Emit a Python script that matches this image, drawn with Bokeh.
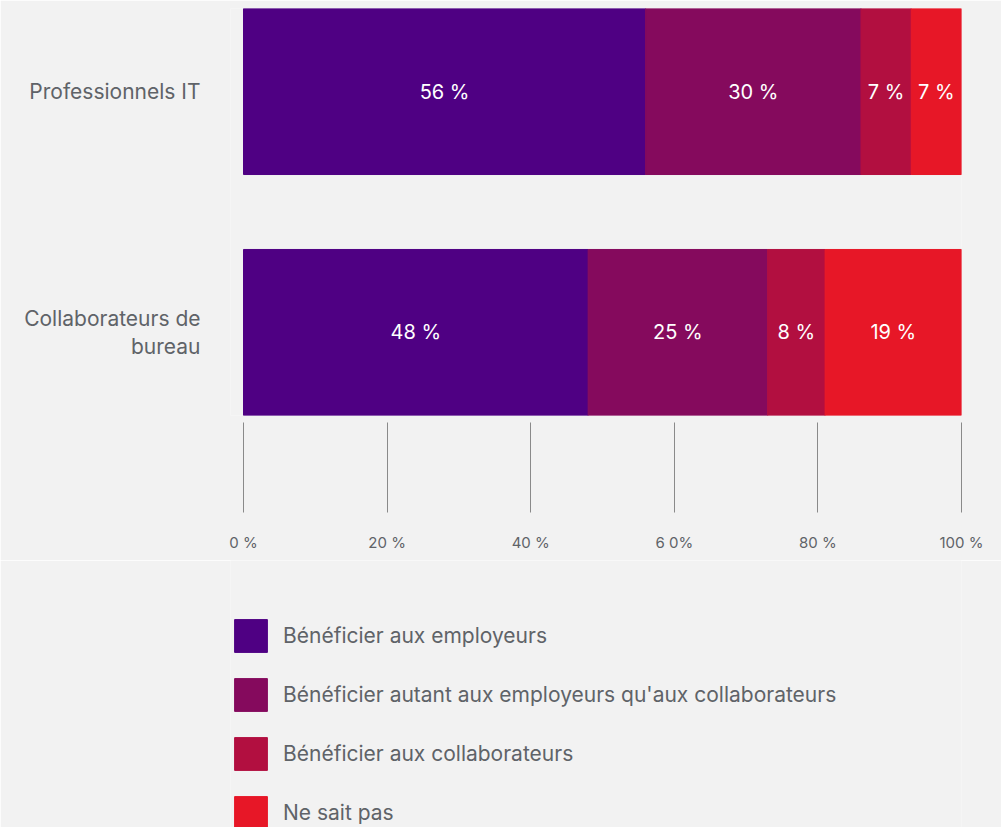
from bokeh.plotting import figure
from bokeh.layouts import column
from bokeh.models import ColumnDataSource, FactorRange, Range1d, FixedTicker, Legend, LegendItem
from bokeh.core.properties import value
from bokeh.embed import file_html
from bokeh.resources import INLINE

# ---- data ----
categories = ["Collaborateurs de\nbureau", "Professionnels IT"]
series_names = [
    "Bénéficier aux employeurs",
    "Bénéficier autant aux employeurs qu'aux collaborateurs",
    "Bénéficier aux collaborateurs",
    "Ne sait pas",
]
employeurs = [48, 56]
autant = [25, 30]
collaborateurs = [8, 7]
ne_sait_pas = [19, 7]
colors = ["#4f0083", "#850a5d", "#b20f40", "#e71727"]
x_ticks = [0, 20, 40, 60, 80, 100]
x_tick_labels = ["0 %", "20 %", "40 %", "6 0%", "80 %", "100 %"]

keys = ["s0", "s1", "s2", "s3"]
series_values = [employeurs, autant, collaborateurs, ne_sait_pas]
src = ColumnDataSource(dict(cat=categories, **{k: v for k, v in zip(keys, series_values)}))

# label positions
lx, ly, lt = [], [], []
for i, cat in enumerate(categories):
    left = 0
    for vals in series_values:
        v = vals[i]
        lx.append(left + v / 2)
        ly.append(cat)
        lt.append(f"{v} %")
        left += v
lab = ColumnDataSource(dict(x=lx, y=ly, t=lt))

TEXT = "#5f6368"
BG = "#f2f2f2"

p = figure(
    width=1001, height=560,
    y_range=FactorRange(factors=categories, range_padding=-0.1556),
    x_range=Range1d(-13 / 7.18, 100),
    output_backend="svg", toolbar_location=None,
    min_border_left=230, min_border_right=40, min_border_top=8, min_border_bottom=145,
)
p.background_fill_color = BG
p.border_fill_color = BG
p.outline_line_color = None
p.grid.visible = False

rs = p.hbar_stack(keys, y="cat", height=0.689, color=colors, source=src)

p.text(x="x", y="y", text="t", source=lab, text_align="center",
       text_baseline="middle", text_color="white",
       text_font=value("Inter"), text_font_size="20px")

xa = p.xaxis[0]
xa.ticker = FixedTicker(ticks=x_ticks)
xa.major_label_overrides = dict(zip(x_ticks, x_tick_labels))
xa.axis_line_color = None
xa.major_tick_in = -7
xa.major_tick_out = 97
xa.major_tick_line_color = "#8a8a8a"
xa.minor_tick_line_color = None
xa.major_label_standoff = 20
xa.major_label_text_font = "Inter"
xa.major_label_text_font_size = "15px"
xa.major_label_text_color = TEXT

ya = p.yaxis[0]
ya.axis_line_color = None
ya.major_tick_line_color = None
ya.minor_tick_line_color = None
ya.major_label_standoff = 24
ya.major_label_text_font = "Inter"
ya.major_label_text_font_size = "21px"
ya.major_label_text_color = TEXT
ya.major_label_text_line_height = 1.1

# ---- legend panel (same series; its bars are hidden, only the swatches show) ----
LH = 267
q = figure(
    width=1001, height=LH,
    y_range=FactorRange(factors=categories),
    x_range=Range1d(0, 100),
    output_backend="svg", toolbar_location=None,
    x_axis_location=None, y_axis_location=None,
    min_border_left=230, min_border_right=40, min_border_top=0, min_border_bottom=0,
)
q.background_fill_color = BG
q.border_fill_color = BG
q.outline_line_color = None
q.grid.visible = False
qrs = q.hbar_stack(keys, y="cat", height=0.689, color=colors, source=src)
for r in qrs:
    r.visible = False

GH, SP = 41, 18
leg_h = 4 * GH + 3 * SP
lg = Legend(
    items=[LegendItem(label=s, renderers=[r]) for s, r in zip(series_names, qrs)],
    location=(0, LH - 55 - leg_h), orientation="vertical",
    glyph_width=GH, glyph_height=GH, spacing=SP, label_standoff=12,
    padding=0, margin=0, border_line_color=None, background_fill_alpha=0,
    inactive_fill_alpha=0, click_policy="none",
    label_text_font="Inter", label_text_font_size="21px", label_text_color=TEXT,
)
q.add_layout(lg)

layout = column(p, q, spacing=0)
open("out.html", "w").write(file_html(layout, INLINE))
